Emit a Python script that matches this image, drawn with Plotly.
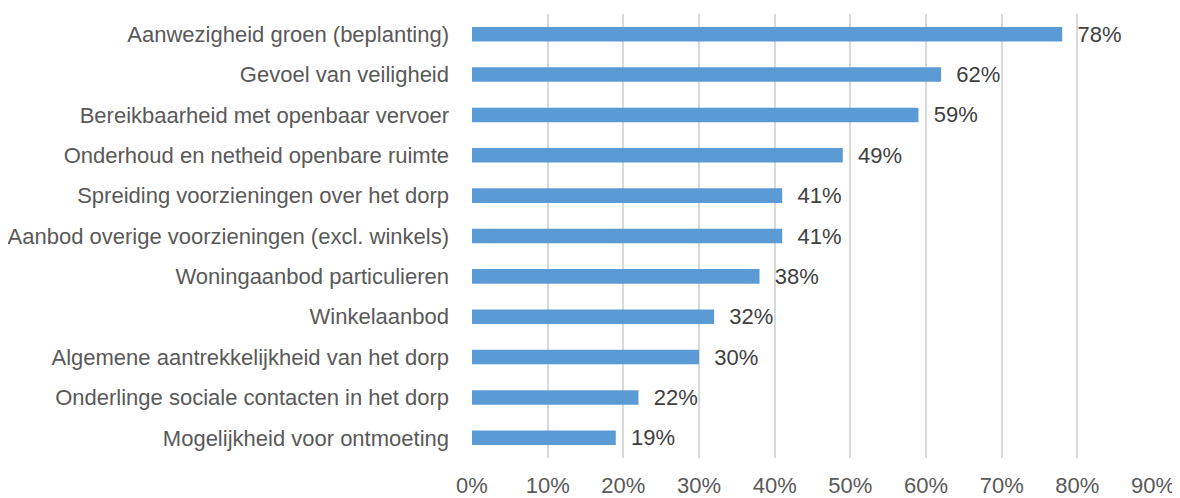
import plotly.graph_objects as go

categories = [
    "Aanwezigheid groen (beplanting)",
    "Gevoel van veiligheid",
    "Bereikbaarheid met openbaar vervoer",
    "Onderhoud en netheid openbare ruimte",
    "Spreiding voorzieningen over het dorp",
    "Aanbod overige voorzieningen (excl. winkels)",
    "Woningaanbod particulieren",
    "Winkelaanbod",
    "Algemene aantrekkelijkheid van het dorp",
    "Onderlinge sociale contacten in het dorp",
    "Mogelijkheid voor ontmoeting",
]
values = [0.78, 0.62, 0.59, 0.49, 0.41, 0.41, 0.38, 0.32, 0.30, 0.22, 0.19]
tick_vals = [0, 0.1, 0.2, 0.3, 0.4, 0.5, 0.6, 0.7, 0.8, 0.9]
tick_text = ["0%", "10%", "20%", "30%", "40%", "50%", "60%", "70%", "80%", "90%"]

FONT = "Liberation Sans"
FS = 22

fig = go.Figure(
    go.Bar(
        x=values,
        y=categories,
        orientation="h",
        marker=dict(color="#5B9BD5", line=dict(width=0)),
        width=0.36,
        text=["\u00a0\u00a0" + f"{round(v*100)}%" for v in values],
        textposition="outside",
        constraintext="none",
        textfont=dict(family=FONT, size=FS, color="#404040"),
        cliponaxis=False,
    )
)

# page body has an 8px default margin, so the figure is sized to the visible area
fig.update_layout(
    width=1172,
    height=490,
    margin=dict(l=464, r=27, t=6, b=40, autoexpand=False),
    paper_bgcolor="white",
    plot_bgcolor="white",
    showlegend=False,
    font=dict(family=FONT, size=FS, color="#595959"),
    xaxis=dict(
        range=[0, 0.9],
        tickvals=tick_vals,
        ticktext=tick_text,
        showgrid=True,
        gridcolor="#D9D9D9",
        gridwidth=1.5,
        zeroline=False,
        showline=False,
        ticks="",
        automargin=False,
        ticklabelstandoff=12,
        tickfont=dict(family=FONT, size=FS, color="#595959"),
    ),
    yaxis=dict(
        range=[10.5, -0.5],
        showgrid=False,
        zeroline=False,
        showline=False,
        ticks="",
        automargin=False,
        ticklabelstandoff=22,
        tickfont=dict(family=FONT, size=FS, color="#595959"),
    ),
)

fig.write_html("out.html")
